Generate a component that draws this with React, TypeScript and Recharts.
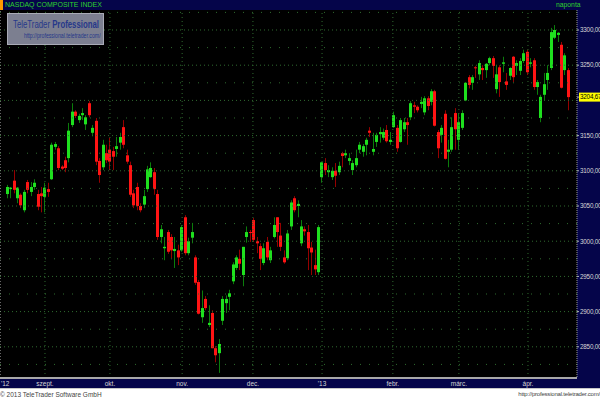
import { ComposedChart, Bar, XAxis, YAxis, ReferenceLine } from 'recharts'

// daily OHLC, NASDAQ Composite, mid-Aug 2012 .. 17 Apr 2013
const opens = [
  3067, 3074, 3086, 3061, 3066, 3044, 3084, 3070, 3077, 3067, 3068, 3063, 3074, 3088, 3134, 3132, 3106, 3115, 3118, 3165,
  3184, 3172, 3179, 3166, 3196, 3154, 3171, 3114, 3105, 3125, 3130, 3128, 3131, 3140, 3162, 3122, 3108, 3068, 3077, 3050,
  3052, 3074, 3091, 3098, 3067, 3006, 2990, 3013, 3006, 2986, 2987, 2987, 3034, 2983, 3005, 2977, 2942, 2892, 2918, 2881,
  2898, 2848, 2841, 2887, 2912, 2921, 2943, 2962, 2975, 2952, 3006, 3013, 3030, 3000, 2993, 2969, 2999, 2973, 3006, 3034,
  3008, 2977, 2976, 3021, 3061, 3050, 2997, 3017, 3013, 2991, 2966, 2956, 3091, 3111, 3098, 3091, 3100, 3098, 3125, 3122,
  3114, 3101, 3108, 3130, 3127, 3137, 3157, 3127, 3141, 3152, 3147, 3158, 3141, 3162, 3161, 3141, 3159, 3169, 3176, 3193,
  3191, 3195, 3183, 3203, 3198, 3213, 3155, 3151, 3181, 3127, 3130, 3182, 3144, 3161, 3200, 3233, 3225, 3247, 3237, 3246,
  3243, 3253, 3260, 3216, 3247, 3252, 3227, 3235, 3262, 3249, 3242, 3256, 3269, 3252, 3257, 3219, 3175, 3208, 3229, 3246,
  3289, 3293, 3279, 3243, 3243,
]
const highs = [
  3080, 3077, 3101, 3077, 3068, 3073, 3087, 3084, 3088, 3073, 3077, 3083, 3083, 3140, 3141, 3135, 3108, 3120, 3168, 3196,
  3186, 3181, 3189, 3179, 3199, 3165, 3175, 3118, 3144, 3137, 3147, 3134, 3148, 3154, 3172, 3130, 3113, 3073, 3083, 3054,
  3073, 3107, 3112, 3104, 3073, 3023, 3006, 3016, 3010, 3006, 2995, 3023, 3037, 3005, 3026, 2980, 2945, 2930, 2922, 2909,
  2902, 2851, 2861, 2922, 2923, 2931, 2970, 2980, 2988, 2992, 3021, 3016, 3033, 3006, 2997, 2997, 3006, 2992, 3034, 3034,
  3026, 2987, 3016, 3058, 3064, 3058, 3030, 3021, 3023, 2999, 2988, 3023, 3112, 3118, 3108, 3105, 3111, 3113, 3127, 3130,
  3125, 3115, 3130, 3141, 3138, 3147, 3162, 3154, 3154, 3162, 3160, 3165, 3155, 3184, 3165, 3175, 3175, 3175, 3199, 3198,
  3193, 3205, 3206, 3206, 3216, 3215, 3158, 3165, 3186, 3144, 3176, 3189, 3182, 3186, 3226, 3236, 3236, 3249, 3257, 3250,
  3253, 3262, 3263, 3250, 3250, 3262, 3239, 3247, 3263, 3257, 3260, 3272, 3272, 3260, 3260, 3229, 3208, 3239, 3250, 3303,
  3307, 3297, 3283, 3267, 3246,
]
const lows = [
  3061, 3061, 3068, 3054, 3047, 3041, 3068, 3064, 3073, 3044, 3041, 3041, 3063, 3087, 3130, 3101, 3101, 3098, 3112, 3162,
  3175, 3168, 3172, 3158, 3176, 3149, 3108, 3083, 3101, 3111, 3101, 3101, 3120, 3130, 3132, 3110, 3063, 3047, 3044, 3041,
  3047, 3070, 3090, 3066, 3002, 2997, 2973, 2982, 2976, 2962, 2966, 2985, 2980, 2980, 2997, 2938, 2896, 2884, 2902, 2878,
  2848, 2828, 2813, 2881, 2898, 2902, 2939, 2959, 2959, 2936, 2998, 2999, 2999, 2983, 2959, 2966, 2973, 2969, 3004, 2992,
  2986, 2968, 2973, 3016, 3041, 3034, 2993, 3008, 2959, 2952, 2952, 2952, 3083, 3094, 3091, 3087, 3077, 3094, 3105, 3118,
  3108, 3094, 3105, 3125, 3120, 3122, 3148, 3122, 3134, 3140, 3144, 3140, 3137, 3161, 3127, 3140, 3155, 3137, 3172, 3182,
  3183, 3189, 3179, 3186, 3193, 3163, 3118, 3140, 3116, 3105, 3127, 3130, 3130, 3158, 3199, 3217, 3215, 3232, 3229, 3229,
  3232, 3250, 3232, 3210, 3205, 3240, 3215, 3229, 3226, 3236, 3236, 3253, 3236, 3247, 3215, 3208, 3169, 3200, 3215, 3243,
  3287, 3283, 3217, 3236, 3186,
]
const closes = [
  3077, 3076, 3073, 3076, 3051, 3070, 3073, 3077, 3083, 3049, 3064, 3076, 3070, 3137, 3138, 3104, 3103, 3104, 3157, 3184,
  3178, 3178, 3182, 3176, 3179, 3161, 3113, 3094, 3137, 3115, 3113, 3120, 3135, 3148, 3137, 3113, 3066, 3051, 3050, 3044,
  3064, 3102, 3104, 3074, 3006, 3017, 2992, 2985, 2987, 2989, 2977, 3020, 2983, 3000, 3013, 2941, 2897, 2905, 2905, 2884,
  2848, 2838, 2854, 2918, 2918, 2926, 2967, 2977, 2968, 2992, 3013, 3012, 3002, 2997, 2975, 2990, 2977, 2987, 3023, 3013,
  2992, 2970, 3011, 3055, 3044, 3053, 3021, 3014, 2990, 2984, 2960, 3020, 3112, 3101, 3101, 3100, 3093, 3107, 3121, 3125,
  3118, 3111, 3118, 3137, 3135, 3144, 3154, 3131, 3151, 3155, 3155, 3142, 3144, 3179, 3132, 3172, 3169, 3165, 3196, 3191,
  3186, 3198, 3203, 3192, 3213, 3164, 3132, 3161, 3117, 3130, 3162, 3159, 3169, 3182, 3225, 3222, 3233, 3246, 3253, 3243,
  3252, 3260, 3249, 3237, 3226, 3254, 3222, 3246, 3233, 3253, 3256, 3267, 3240, 3254, 3219, 3226, 3205, 3223, 3239, 3297,
  3300, 3296, 3218, 3264, 3204.67,
]

// month starts on the index axis
const monthTicks = [-1.17, 11.1, 30.1, 51.2, 71.9, 92.1, 112.8, 132.1, 152.3]
const monthLabels = ["'12", 'szept.', 'okt.', 'nov.', 'dec.', "'13", 'febr.', 'márc.', 'ápr.']

// 3200 is left out: the last-price tag sits there
const priceTicks = [2850, 2900, 2950, 3000, 3050, 3100, 3150, 3250, 3300]
const gridLevels = [2825, 2850, 2875, 2900, 2925, 2950, 2975, 3000, 3025, 3050, 3075, 3100, 3125, 3150, 3175, 3200, 3225, 3250, 3275, 3300, 3325]

const candles = opens.map((o, i) => ({ i, o, h: highs[i], l: lows[i], c: closes[i] }))
const lastClose = closes[closes.length - 1]

const FONT = '"Liberation Sans", Arial, sans-serif'
const NAVY = '#05054a'
const GRID = '#2f6a2f'

const fmtPrice = (v: number) => v.toFixed(2).replace('.', ',')

function Candle(props: any) {
  const { x, y, width, height, payload } = props
  const { o, h, l, c } = payload
  const up = c >= o
  const cx = Math.round(x + width / 2)
  const top = Math.min(y, y + height)
  const span = Math.abs(height)
  const k = span / (h - l || 1)
  const bTop = top + (h - Math.max(o, c)) * k
  const bBot = top + (h - Math.min(o, c)) * k
  return (
    <g>
      <line x1={cx + 0.5} x2={cx + 0.5} y1={top} y2={top + span} stroke={up ? '#0b7d0b' : '#960000'} strokeWidth={1} />
      <rect x={cx - 1} y={bTop} width={3} height={Math.max(1, bBot - bTop)} fill={up ? '#1ee01e' : '#ff1414'} />
    </g>
  )
}

function PriceTick(props: any) {
  const { x, y, payload } = props
  const last = payload.value === lastClose
  return (
    <g>
      {last && <rect x={x - 1} y={y - 4.5} width={21} height={9} fill="#ffff00" />}
      <text x={x} y={y + 2.3} fill={last ? '#000' : '#d6d6d6'} fontSize={6.3} fontFamily={FONT} letterSpacing={-0.2}>
        {fmtPrice(payload.value)}
      </text>
    </g>
  )
}

function MonthTick(props: any) {
  const { x, index } = props
  const first = index === 0
  return (
    <text
      x={first ? 1 : x}
      y={386}
      textAnchor={first ? 'start' : 'middle'}
      fill="#d6d6d6"
      fontSize={6.5}
      fontFamily={FONT}
    >
      {monthLabels[index]}
    </text>
  )
}

export default function App() {
  return (
    <div style={{ position: 'absolute', left: 0, top: 0, width: 600, height: 400, background: '#fff', overflow: 'hidden', fontFamily: FONT }}>
      {/* title bar */}
      <div style={{ position: 'absolute', left: 0, top: 0, width: 600, height: 10, background: NAVY }} />
      <div style={{ position: 'absolute', left: 0, top: 0, width: 3, height: 10, background: '#ff9900' }} />
      <div style={{ position: 'absolute', left: 5, top: 1, fontSize: 7, lineHeight: '8px', color: '#2ed02e' }}>NASDAQ COMPOSITE INDEX</div>
      <div style={{ position: 'absolute', left: 556, top: 1, fontSize: 6.8, lineHeight: '8px', color: '#2ed02e' }}>naponta</div>

      {/* plot and axis backgrounds */}
      <div style={{ position: 'absolute', left: 0, top: 10, width: 577, height: 368, background: '#000' }} />
      <div style={{ position: 'absolute', left: 577, top: 10, width: 23, height: 378, background: NAVY }} />
      <div style={{ position: 'absolute', left: 0, top: 378, width: 577, height: 10, background: NAVY }} />

      <div style={{ position: 'absolute', left: 0, top: 0 }}>
        <ComposedChart width={600} height={388} data={candles} margin={{ top: 10, right: 0, bottom: 0, left: 0 }}>
          {gridLevels.map((v) => (
            <ReferenceLine key={'h' + v} y={v} stroke={GRID} strokeDasharray={v % 50 === 0 ? '1 3' : '1 8'} />
          ))}
          {monthTicks.slice(1).map((t) => (
            <ReferenceLine key={'v' + t} x={t} stroke={GRID} strokeDasharray="1 3" />
          ))}
          <ReferenceLine x={-2.0} stroke="#9a9a9a" strokeDasharray="1 2" />
          <XAxis
            type="number"
            dataKey="i"
            domain={[-2.046, 166.63]}
            allowDataOverflow
            ticks={monthTicks}
            interval={0}
            height={10}
            axisLine={{ stroke: '#a8a8a8', strokeWidth: 2 }}
            tickLine={false}
            tick={<MonthTick />}
          />
          <YAxis
            orientation="right"
            type="number"
            domain={[2805.7, 3328.4]}
            allowDataOverflow
            ticks={[...priceTicks, lastClose]}
            interval={0}
            width={23}
            tickSize={2}
            tickMargin={1}
            axisLine={{ stroke: '#9a9a9a', strokeDasharray: '1 1' }}
            tickLine={{ stroke: '#b0b0b0' }}
            tick={<PriceTick />}
          />
          <Bar dataKey={(d: any) => [d.l, d.h]} barSize={3} shape={<Candle />} isAnimationActive={false} />
        </ComposedChart>
      </div>

      {/* vendor badge */}
      <div
        style={{
          position: 'absolute', left: 7, top: 13, width: 97, height: 32, background: '#7c7f90',
          border: '1px solid #a9abb6', boxSizing: 'border-box', color: '#26388a',
        }}
      >
        <div
          style={{
            position: 'absolute', left: 5, top: 5, fontSize: 10, lineHeight: '11px', whiteSpace: 'nowrap',
            transform: 'scaleX(0.78)', transformOrigin: '0 0',
          }}
        >
          TeleTrader <b>Professional</b>
        </div>
        <div
          style={{
            position: 'absolute', left: 16, top: 18, fontSize: 7, lineHeight: '8px', whiteSpace: 'nowrap',
            transform: 'scaleX(0.74)', transformOrigin: '0 0',
          }}
        >
          http://professional.teletrader.com/
        </div>
      </div>

      {/* footer */}
      <div style={{ position: 'absolute', left: 0, top: 388, width: 600, height: 1, background: '#c8c8c8' }} />
      <div style={{ position: 'absolute', left: 0, top: 390, fontSize: 6.5, lineHeight: '9px', color: '#444', whiteSpace: 'nowrap' }}>
        © 2013 TeleTrader Software GmbH
      </div>
      <div style={{ position: 'absolute', right: 0, top: 390, fontSize: 6, lineHeight: '9px', color: '#444', whiteSpace: 'nowrap', letterSpacing: -0.2 }}>
        http://professional.teletrader.com/
      </div>
    </div>
  )
}
